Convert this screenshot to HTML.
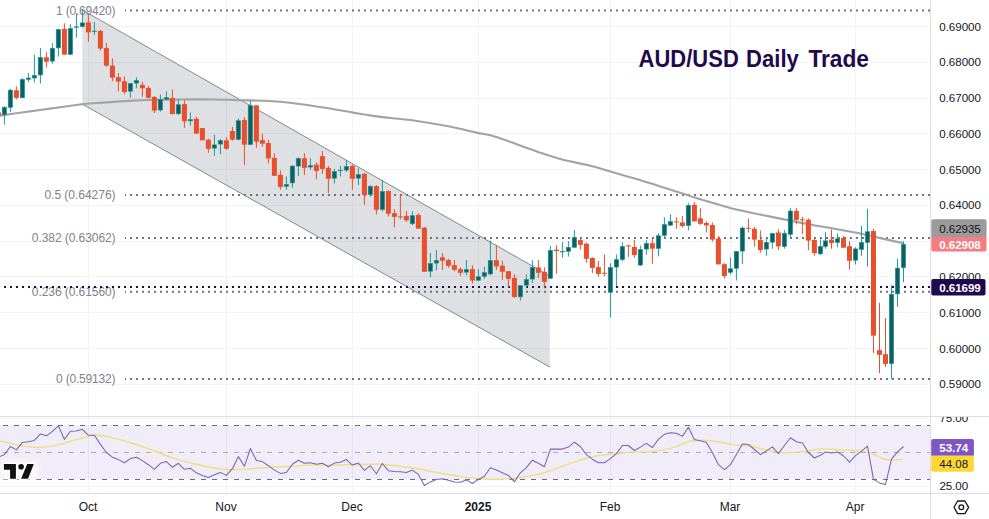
<!DOCTYPE html>
<html><head><meta charset="utf-8"><title>AUD/USD Daily Trade</title>
<style>
html,body{margin:0;padding:0;background:#fff;}
body{width:989px;height:519px;overflow:hidden;font-family:"Liberation Sans",sans-serif;}
svg{display:block;}
text{font-family:"Liberation Sans",sans-serif;}
</style></head><body>
<svg width="989" height="519" viewBox="0 0 989 519">
<rect x="0" y="0" width="989" height="519" fill="#ffffff"/>
<g stroke="#f2f3f5" stroke-width="1" shape-rendering="crispEdges">
<line x1="0" y1="26.4" x2="930" y2="26.4"/>
<line x1="0" y1="62.2" x2="930" y2="62.2"/>
<line x1="0" y1="98.0" x2="930" y2="98.0"/>
<line x1="0" y1="133.7" x2="930" y2="133.7"/>
<line x1="0" y1="169.5" x2="930" y2="169.5"/>
<line x1="0" y1="205.3" x2="930" y2="205.3"/>
<line x1="0" y1="241.1" x2="930" y2="241.1"/>
<line x1="0" y1="276.9" x2="930" y2="276.9"/>
<line x1="0" y1="312.6" x2="930" y2="312.6"/>
<line x1="0" y1="348.4" x2="930" y2="348.4"/>
<line x1="0" y1="384.2" x2="930" y2="384.2"/>
<line x1="88.4" y1="0" x2="88.4" y2="492.5"/>
<line x1="226.4" y1="0" x2="226.4" y2="492.5"/>
<line x1="352.4" y1="0" x2="352.4" y2="492.5"/>
<line x1="478.4" y1="0" x2="478.4" y2="492.5"/>
<line x1="610.4" y1="0" x2="610.4" y2="492.5"/>
<line x1="730.4" y1="0" x2="730.4" y2="492.5"/>
<line x1="855.5" y1="0" x2="855.5" y2="492.5"/>
<line x1="0" y1="486" x2="930" y2="486"/>
<line x1="0" y1="418.6" x2="930" y2="418.6"/>
</g>
<rect x="0" y="425.2" width="930.5" height="54" fill="#7e57c2" fill-opacity="0.11"/>
<polygon points="82.3,10.0 549.9,276.0 549.9,367.1 82.3,104.1" fill="#787b86" fill-opacity="0.235"/>
<g stroke="#83868f" stroke-width="1" fill="none"><line x1="82.3" y1="10.0" x2="549.9" y2="276.0"/><line x1="82.3" y1="104.1" x2="549.9" y2="367.1"/></g>
<g stroke="#70737d" stroke-width="2" stroke-dasharray="2 4" fill="none">
<line x1="125" y1="10.6" x2="931" y2="10.6" stroke-dashoffset="1"/>
<line x1="125" y1="194.9" x2="931" y2="194.9" stroke-dashoffset="1"/>
<line x1="125" y1="238.1" x2="931" y2="238.1" stroke-dashoffset="1"/>
<line x1="125" y1="291.8" x2="931" y2="291.8" stroke-dashoffset="1"/>
<line x1="125" y1="379.0" x2="931" y2="379.0" stroke-dashoffset="1"/>
</g>
<text x="115.6" y="14.9" font-size="12" fill="#80838d" text-anchor="end" textLength="59.6" lengthAdjust="spacing">1 (0.69420)</text>
<text x="115.6" y="199.2" font-size="12" fill="#80838d" text-anchor="end" textLength="71.2" lengthAdjust="spacing">0.5 (0.64276)</text>
<text x="115.6" y="242.4" font-size="12" fill="#80838d" text-anchor="end" textLength="83.8" lengthAdjust="spacing">0.382 (0.63062)</text>
<text x="115.6" y="296.1" font-size="12" fill="#80838d" text-anchor="end" textLength="83.8" lengthAdjust="spacing">0.236 (0.61560)</text>
<text x="115.6" y="383.3" font-size="12" fill="#80838d" text-anchor="end" textLength="59.6" lengthAdjust="spacing">0 (0.59132)</text>
<line x1="4" y1="287" x2="931" y2="287" stroke="#1f0a4d" stroke-width="2" stroke-dasharray="2 4"/>
<path d="M-2.0,115.9 C-1.7,115.9 -3.7,116.1 0.0,115.6 C3.7,115.1 13.3,113.7 20.0,112.8 C26.7,111.9 33.3,110.9 40.0,110.0 C46.7,109.1 53.3,108.1 60.0,107.2 C66.7,106.3 76.2,105.0 80.0,104.5 C83.8,104.0 82.0,104.2 83.0,104.1 C84.0,104.0 83.2,104.0 86.0,103.8 C88.8,103.6 94.3,103.2 100.0,102.8 C105.7,102.4 113.1,101.8 120.0,101.4 C126.9,101.0 134.9,100.6 141.6,100.3 C148.3,100.0 153.6,99.9 160.0,99.8 C166.4,99.7 173.3,99.6 180.0,99.5 C186.7,99.4 193.3,99.4 200.0,99.4 C206.7,99.4 213.2,99.6 220.0,99.7 C226.8,99.8 230.5,99.9 240.7,100.2 C250.9,100.5 267.5,100.6 281.0,101.8 C294.5,103.0 309.8,105.5 321.6,107.3 C333.4,109.1 343.9,111.1 352.0,112.4 C360.1,113.8 362.8,114.4 370.0,115.4 C377.2,116.4 387.3,117.6 395.1,118.5 C402.9,119.4 408.1,119.7 417.0,121.0 C425.9,122.3 438.5,124.4 448.4,126.3 C458.3,128.2 468.8,130.9 476.6,132.6 C484.4,134.3 488.6,134.7 495.4,136.7 C502.2,138.7 510.0,141.9 517.3,144.5 C524.6,147.1 532.0,149.9 539.3,152.4 C546.6,154.9 552.9,157.1 561.2,159.3 C569.6,161.5 581.0,163.4 589.4,165.5 C597.8,167.6 603.5,169.6 611.4,171.8 C619.2,174.1 628.7,176.7 636.5,179.0 C644.3,181.3 651.1,183.6 658.4,185.9 C665.6,188.2 674.7,191.1 680.0,192.8 C685.3,194.5 686.5,194.8 690.0,195.9 C693.5,197.0 697.6,198.5 701.3,199.6 C705.0,200.7 707.4,201.3 712.2,202.7 C717.0,204.1 724.4,206.4 730.0,207.9 C735.6,209.4 739.3,210.1 745.6,211.5 C751.9,212.9 760.5,214.6 767.9,216.1 C775.3,217.6 782.7,219.1 790.1,220.6 C797.5,222.1 805.0,223.6 812.4,225.0 C819.8,226.4 827.2,227.5 834.6,228.8 C842.0,230.1 849.4,231.3 856.8,232.8 C864.2,234.3 871.3,236.2 879.1,237.9 C886.9,239.7 899.5,242.4 903.6,243.3" fill="none" stroke="#a3a3a3" stroke-width="2.1" stroke-linejoin="round"/>
<g><rect x="-2.1" y="110.5" width="1" height="7.0" fill="#e8502d"/>
<rect x="3.9" y="106.1" width="1" height="18.6" fill="#1f9c98"/>
<rect x="9.9" y="88.9" width="1" height="23.3" fill="#1f9c98"/>
<rect x="15.9" y="86.3" width="1" height="13.1" fill="#e8502d"/>
<rect x="21.9" y="78.2" width="1" height="19.8" fill="#1f9c98"/>
<rect x="27.9" y="73.1" width="1" height="9.2" fill="#1f9c98"/>
<rect x="33.9" y="54.6" width="1" height="27.9" fill="#1f9c98"/>
<rect x="39.9" y="47.9" width="1" height="35.6" fill="#1f9c98"/>
<rect x="45.9" y="52.2" width="1" height="15.2" fill="#e8502d"/>
<rect x="51.9" y="43.1" width="1" height="20.6" fill="#1f9c98"/>
<rect x="57.9" y="29.3" width="1" height="27.3" fill="#1f9c98"/>
<rect x="63.9" y="23.3" width="1" height="31.3" fill="#e8502d"/>
<rect x="69.9" y="24.3" width="1" height="30.3" fill="#1f9c98"/>
<rect x="75.9" y="13.1" width="1" height="24.7" fill="#1f9c98"/>
<rect x="81.9" y="11.1" width="1" height="16.6" fill="#1f9c98"/>
<rect x="87.9" y="14.6" width="1" height="27.3" fill="#e8502d"/>
<rect x="93.9" y="21.8" width="1" height="13.0" fill="#1f9c98"/>
<rect x="99.9" y="29.9" width="1" height="20.7" fill="#e8502d"/>
<rect x="105.9" y="42.9" width="1" height="23.9" fill="#e8502d"/>
<rect x="111.9" y="58.3" width="1" height="22.9" fill="#e8502d"/>
<rect x="117.9" y="73.1" width="1" height="18.3" fill="#e8502d"/>
<rect x="123.9" y="76.2" width="1" height="18.2" fill="#e8502d"/>
<rect x="129.9" y="83.3" width="1" height="14.5" fill="#1f9c98"/>
<rect x="135.9" y="77.2" width="1" height="11.1" fill="#1f9c98"/>
<rect x="141.9" y="81.8" width="1" height="15.0" fill="#e8502d"/>
<rect x="147.9" y="85.9" width="1" height="12.5" fill="#e8502d"/>
<rect x="153.9" y="96.0" width="1" height="17.0" fill="#e8502d"/>
<rect x="159.9" y="94.4" width="1" height="17.2" fill="#1f9c98"/>
<rect x="165.9" y="91.4" width="1" height="8.5" fill="#1f9c98"/>
<rect x="171.9" y="89.3" width="1" height="25.3" fill="#e8502d"/>
<rect x="177.9" y="99.4" width="1" height="15.6" fill="#1f9c98"/>
<rect x="183.9" y="100.5" width="1" height="27.3" fill="#e8502d"/>
<rect x="189.9" y="112.4" width="1" height="13.1" fill="#1f9c98"/>
<rect x="195.9" y="116.8" width="1" height="16.8" fill="#e8502d"/>
<rect x="201.9" y="128.1" width="1" height="12.2" fill="#e8502d"/>
<rect x="207.9" y="138.7" width="1" height="14.1" fill="#e8502d"/>
<rect x="213.9" y="134.6" width="1" height="21.3" fill="#1f9c98"/>
<rect x="219.9" y="139.1" width="1" height="15.3" fill="#1f9c98"/>
<rect x="225.9" y="137.3" width="1" height="12.5" fill="#e8502d"/>
<rect x="231.9" y="126.9" width="1" height="13.8" fill="#e8502d"/>
<rect x="237.9" y="118.4" width="1" height="21.9" fill="#1f9c98"/>
<rect x="243.9" y="117.0" width="1" height="48.0" fill="#e8502d"/>
<rect x="249.9" y="101.2" width="1" height="44.1" fill="#1f9c98"/>
<rect x="255.9" y="105.3" width="1" height="42.5" fill="#e8502d"/>
<rect x="261.9" y="133.6" width="1" height="13.2" fill="#e8502d"/>
<rect x="267.9" y="139.7" width="1" height="23.7" fill="#e8502d"/>
<rect x="273.9" y="153.2" width="1" height="22.8" fill="#e8502d"/>
<rect x="279.9" y="170.3" width="1" height="19.3" fill="#e8502d"/>
<rect x="285.9" y="176.4" width="1" height="13.2" fill="#1f9c98"/>
<rect x="291.9" y="164.9" width="1" height="23.0" fill="#1f9c98"/>
<rect x="297.9" y="157.2" width="1" height="18.8" fill="#1f9c98"/>
<rect x="303.9" y="153.1" width="1" height="21.7" fill="#e8502d"/>
<rect x="309.9" y="158.2" width="1" height="11.5" fill="#1f9c98"/>
<rect x="315.9" y="162.3" width="1" height="17.1" fill="#e8502d"/>
<rect x="321.9" y="151.1" width="1" height="22.7" fill="#e8502d"/>
<rect x="327.9" y="165.9" width="1" height="27.1" fill="#e8502d"/>
<rect x="333.9" y="168.9" width="1" height="14.6" fill="#1f9c98"/>
<rect x="339.9" y="165.9" width="1" height="10.5" fill="#1f9c98"/>
<rect x="345.9" y="159.8" width="1" height="12.0" fill="#1f9c98"/>
<rect x="351.9" y="164.3" width="1" height="25.3" fill="#e8502d"/>
<rect x="357.9" y="168.3" width="1" height="16.6" fill="#1f9c98"/>
<rect x="363.9" y="172.8" width="1" height="31.9" fill="#e8502d"/>
<rect x="369.9" y="185.1" width="1" height="11.5" fill="#1f9c98"/>
<rect x="375.9" y="185.1" width="1" height="29.3" fill="#e8502d"/>
<rect x="381.9" y="179.9" width="1" height="31.5" fill="#1f9c98"/>
<rect x="387.9" y="190.2" width="1" height="26.3" fill="#e8502d"/>
<rect x="393.9" y="209.2" width="1" height="18.2" fill="#e8502d"/>
<rect x="399.9" y="194.2" width="1" height="25.1" fill="#e8502d"/>
<rect x="405.9" y="211.2" width="1" height="10.7" fill="#e8502d"/>
<rect x="411.9" y="211.2" width="1" height="13.8" fill="#1f9c98"/>
<rect x="417.9" y="213.2" width="1" height="15.4" fill="#e8502d"/>
<rect x="423.9" y="226.9" width="1" height="44.9" fill="#e8502d"/>
<rect x="429.9" y="253.0" width="1" height="24.3" fill="#1f9c98"/>
<rect x="435.9" y="250.0" width="1" height="20.4" fill="#1f9c98"/>
<rect x="441.9" y="253.0" width="1" height="16.8" fill="#e8502d"/>
<rect x="447.9" y="258.7" width="1" height="9.1" fill="#e8502d"/>
<rect x="453.9" y="260.1" width="1" height="11.1" fill="#e8502d"/>
<rect x="459.9" y="267.4" width="1" height="8.5" fill="#e8502d"/>
<rect x="465.9" y="260.1" width="1" height="15.4" fill="#1f9c98"/>
<rect x="471.9" y="265.1" width="1" height="18.5" fill="#e8502d"/>
<rect x="477.9" y="269.2" width="1" height="11.3" fill="#1f9c98"/>
<rect x="483.9" y="266.8" width="1" height="12.1" fill="#1f9c98"/>
<rect x="489.9" y="240.5" width="1" height="34.8" fill="#1f9c98"/>
<rect x="495.9" y="244.9" width="1" height="24.9" fill="#e8502d"/>
<rect x="501.9" y="260.7" width="1" height="19.2" fill="#e8502d"/>
<rect x="507.9" y="270.8" width="1" height="16.8" fill="#e8502d"/>
<rect x="513.9" y="274.2" width="1" height="23.5" fill="#e8502d"/>
<rect x="519.9" y="285.4" width="1" height="15.1" fill="#1f9c98"/>
<rect x="525.9" y="274.2" width="1" height="14.2" fill="#1f9c98"/>
<rect x="531.9" y="260.1" width="1" height="22.8" fill="#1f9c98"/>
<rect x="537.9" y="260.1" width="1" height="17.8" fill="#e8502d"/>
<rect x="543.9" y="267.4" width="1" height="21.0" fill="#e8502d"/>
<rect x="549.9" y="246.1" width="1" height="32.8" fill="#1f9c98"/>
<rect x="555.9" y="244.9" width="1" height="28.9" fill="#e8502d"/>
<rect x="561.9" y="242.1" width="1" height="15.6" fill="#1f9c98"/>
<rect x="567.9" y="241.1" width="1" height="15.5" fill="#1f9c98"/>
<rect x="573.9" y="229.9" width="1" height="18.0" fill="#1f9c98"/>
<rect x="579.9" y="237.0" width="1" height="12.6" fill="#e8502d"/>
<rect x="585.9" y="242.5" width="1" height="20.3" fill="#e8502d"/>
<rect x="591.9" y="257.4" width="1" height="15.5" fill="#e8502d"/>
<rect x="597.9" y="260.8" width="1" height="15.8" fill="#e8502d"/>
<rect x="603.9" y="254.3" width="1" height="22.3" fill="#e8502d"/>
<rect x="609.9" y="263.2" width="1" height="54.3" fill="#1f9c98"/>
<rect x="615.9" y="254.3" width="1" height="31.8" fill="#1f9c98"/>
<rect x="621.9" y="242.2" width="1" height="19.0" fill="#1f9c98"/>
<rect x="627.9" y="244.6" width="1" height="12.2" fill="#e8502d"/>
<rect x="633.9" y="240.0" width="1" height="17.8" fill="#e8502d"/>
<rect x="639.9" y="245.6" width="1" height="20.3" fill="#1f9c98"/>
<rect x="645.9" y="240.2" width="1" height="14.5" fill="#1f9c98"/>
<rect x="651.9" y="237.5" width="1" height="26.3" fill="#e8502d"/>
<rect x="657.9" y="233.1" width="1" height="23.3" fill="#1f9c98"/>
<rect x="663.9" y="217.3" width="1" height="21.3" fill="#1f9c98"/>
<rect x="669.9" y="214.3" width="1" height="11.7" fill="#1f9c98"/>
<rect x="675.9" y="217.3" width="1" height="11.5" fill="#e8502d"/>
<rect x="681.9" y="215.9" width="1" height="11.9" fill="#e8502d"/>
<rect x="687.9" y="203.2" width="1" height="27.3" fill="#1f9c98"/>
<rect x="693.9" y="202.1" width="1" height="19.3" fill="#e8502d"/>
<rect x="699.9" y="208.2" width="1" height="16.6" fill="#e8502d"/>
<rect x="705.9" y="221.4" width="1" height="11.1" fill="#e8502d"/>
<rect x="711.9" y="222.4" width="1" height="19.2" fill="#e8502d"/>
<rect x="717.9" y="236.1" width="1" height="28.3" fill="#e8502d"/>
<rect x="723.9" y="263.2" width="1" height="15.4" fill="#e8502d"/>
<rect x="729.9" y="257.4" width="1" height="17.2" fill="#1f9c98"/>
<rect x="735.9" y="251.3" width="1" height="29.3" fill="#1f9c98"/>
<rect x="741.9" y="226.4" width="1" height="37.4" fill="#1f9c98"/>
<rect x="747.9" y="218.3" width="1" height="14.2" fill="#e8502d"/>
<rect x="753.9" y="227.0" width="1" height="19.6" fill="#e8502d"/>
<rect x="759.9" y="230.5" width="1" height="22.2" fill="#e8502d"/>
<rect x="765.9" y="237.1" width="1" height="18.6" fill="#1f9c98"/>
<rect x="771.9" y="233.1" width="1" height="15.6" fill="#1f9c98"/>
<rect x="777.9" y="229.4" width="1" height="20.6" fill="#e8502d"/>
<rect x="783.9" y="230.1" width="1" height="18.6" fill="#1f9c98"/>
<rect x="789.9" y="208.2" width="1" height="29.3" fill="#1f9c98"/>
<rect x="795.9" y="208.2" width="1" height="16.2" fill="#e8502d"/>
<rect x="801.9" y="216.9" width="1" height="17.2" fill="#e8502d"/>
<rect x="807.9" y="218.3" width="1" height="32.0" fill="#e8502d"/>
<rect x="813.9" y="237.9" width="1" height="17.8" fill="#e8502d"/>
<rect x="819.9" y="239.2" width="1" height="15.5" fill="#1f9c98"/>
<rect x="825.0" y="232.1" width="1" height="16.6" fill="#1f9c98"/>
<rect x="831.0" y="229.4" width="1" height="19.3" fill="#e8502d"/>
<rect x="837.0" y="233.5" width="1" height="13.8" fill="#1f9c98"/>
<rect x="843.0" y="236.1" width="1" height="11.6" fill="#e8502d"/>
<rect x="849.0" y="241.2" width="1" height="28.3" fill="#e8502d"/>
<rect x="855.0" y="247.3" width="1" height="17.1" fill="#1f9c98"/>
<rect x="861.0" y="226.0" width="1" height="29.7" fill="#1f9c98"/>
<rect x="867.0" y="208.8" width="1" height="57.7" fill="#1f9c98"/>
<rect x="873.0" y="229.0" width="1" height="123.8" fill="#e8502d"/>
<rect x="879.0" y="302.8" width="1" height="70.2" fill="#e8502d"/>
<rect x="885.0" y="318.0" width="1" height="48.9" fill="#e8502d"/>
<rect x="891.0" y="285.1" width="1" height="94.0" fill="#1f9c98"/>
<rect x="897.0" y="258.8" width="1" height="48.0" fill="#1f9c98"/>
<rect x="903.0" y="241.2" width="1" height="40.8" fill="#1f9c98"/></g>
<g fill="#0d5f63" stroke="#1f9c98" stroke-width="0.6"><rect x="2.20" y="107.3" width="4.4" height="7.5"/>
<rect x="8.20" y="90.1" width="4.4" height="17.2"/>
<rect x="20.20" y="79.4" width="4.4" height="18.4"/>
<rect x="26.20" y="78.0" width="4.4" height="1.4"/>
<rect x="32.20" y="75.4" width="4.4" height="2.6"/>
<rect x="38.20" y="57.5" width="4.4" height="17.5"/>
<rect x="50.20" y="48.3" width="4.4" height="12.8"/>
<rect x="56.20" y="29.5" width="4.4" height="18.4"/>
<rect x="68.20" y="28.5" width="4.4" height="25.9"/>
<rect x="74.20" y="26.8" width="4.4" height="0.6"/>
<rect x="80.20" y="22.9" width="4.4" height="3.6"/>
<rect x="92.20" y="31.0" width="4.4" height="0.6"/>
<rect x="128.20" y="83.5" width="4.4" height="7.7"/>
<rect x="134.20" y="80.4" width="4.4" height="2.7"/>
<rect x="158.20" y="99.6" width="4.4" height="10.4"/>
<rect x="164.20" y="97.6" width="4.4" height="1.6"/>
<rect x="176.20" y="104.7" width="4.4" height="9.1"/>
<rect x="188.20" y="119.6" width="4.4" height="1.3"/>
<rect x="212.20" y="144.9" width="4.4" height="3.3"/>
<rect x="218.20" y="140.5" width="4.4" height="3.6"/>
<rect x="236.20" y="120.7" width="4.4" height="18.8"/>
<rect x="248.20" y="105.5" width="4.4" height="39.0"/>
<rect x="284.20" y="184.3" width="4.4" height="2.0"/>
<rect x="290.20" y="166.1" width="4.4" height="16.8"/>
<rect x="296.20" y="158.4" width="4.4" height="7.7"/>
<rect x="308.20" y="165.5" width="4.4" height="1.6"/>
<rect x="332.20" y="171.6" width="4.4" height="6.6"/>
<rect x="338.20" y="170.1" width="4.4" height="0.7"/>
<rect x="344.20" y="166.5" width="4.4" height="3.6"/>
<rect x="356.20" y="174.6" width="4.4" height="3.6"/>
<rect x="368.20" y="186.3" width="4.4" height="8.1"/>
<rect x="380.20" y="191.4" width="4.4" height="18.2"/>
<rect x="410.20" y="215.7" width="4.4" height="8.1"/>
<rect x="428.20" y="263.5" width="4.4" height="7.7"/>
<rect x="434.20" y="260.3" width="4.4" height="2.8"/>
<rect x="464.20" y="269.6" width="4.4" height="2.6"/>
<rect x="476.20" y="276.7" width="4.4" height="3.6"/>
<rect x="482.20" y="272.6" width="4.4" height="3.7"/>
<rect x="488.20" y="260.3" width="4.4" height="13.7"/>
<rect x="518.20" y="285.6" width="4.4" height="11.3"/>
<rect x="524.20" y="279.5" width="4.4" height="5.7"/>
<rect x="530.20" y="267.4" width="4.4" height="11.7"/>
<rect x="548.20" y="250.4" width="4.4" height="27.9"/>
<rect x="560.20" y="251.4" width="4.4" height="0.6"/>
<rect x="566.20" y="247.3" width="4.4" height="4.1"/>
<rect x="572.20" y="237.6" width="4.4" height="9.7"/>
<rect x="608.20" y="267.5" width="4.4" height="24.8"/>
<rect x="614.20" y="259.6" width="4.4" height="7.5"/>
<rect x="620.20" y="246.4" width="4.4" height="13.2"/>
<rect x="638.20" y="249.5" width="4.4" height="15.6"/>
<rect x="644.20" y="243.4" width="4.4" height="5.7"/>
<rect x="656.20" y="235.7" width="4.4" height="12.8"/>
<rect x="662.20" y="224.6" width="4.4" height="10.7"/>
<rect x="668.20" y="221.6" width="4.4" height="3.6"/>
<rect x="686.20" y="205.4" width="4.4" height="20.2"/>
<rect x="728.20" y="268.7" width="4.4" height="3.6"/>
<rect x="734.20" y="251.5" width="4.4" height="16.8"/>
<rect x="740.20" y="228.0" width="4.4" height="23.1"/>
<rect x="764.20" y="242.4" width="4.4" height="6.7"/>
<rect x="770.20" y="233.3" width="4.4" height="8.9"/>
<rect x="782.20" y="233.3" width="4.4" height="13.1"/>
<rect x="788.20" y="211.0" width="4.4" height="23.3"/>
<rect x="818.20" y="246.4" width="4.4" height="7.5"/>
<rect x="823.30" y="240.8" width="4.4" height="5.6"/>
<rect x="835.30" y="238.8" width="4.4" height="3.6"/>
<rect x="853.30" y="248.9" width="4.4" height="11.3"/>
<rect x="859.30" y="242.4" width="4.4" height="7.1"/>
<rect x="865.30" y="231.7" width="4.4" height="10.7"/>
<rect x="889.30" y="294.3" width="4.4" height="69.4"/>
<rect x="895.30" y="268.1" width="4.4" height="25.8"/>
<rect x="901.30" y="244.4" width="4.4" height="23.3"/></g>
<g fill="#e8502d"><rect x="-4.1" y="112.2" width="5" height="3.4"/>
<rect x="13.9" y="90.3" width="5" height="7.5"/>
<rect x="43.9" y="57.3" width="5" height="4.4"/>
<rect x="61.9" y="28.9" width="5" height="25.7"/>
<rect x="85.9" y="22.3" width="5" height="10.1"/>
<rect x="97.9" y="30.8" width="5" height="17.8"/>
<rect x="103.9" y="48.1" width="5" height="17.6"/>
<rect x="109.9" y="65.7" width="5" height="11.9"/>
<rect x="115.9" y="77.2" width="5" height="4.4"/>
<rect x="121.9" y="81.2" width="5" height="10.8"/>
<rect x="139.9" y="84.9" width="5" height="3.4"/>
<rect x="145.9" y="87.9" width="5" height="9.9"/>
<rect x="151.9" y="97.0" width="5" height="13.6"/>
<rect x="169.9" y="98.0" width="5" height="16.0"/>
<rect x="181.9" y="104.1" width="5" height="17.2"/>
<rect x="193.9" y="118.8" width="5" height="14.8"/>
<rect x="199.9" y="128.1" width="5" height="12.2"/>
<rect x="205.9" y="139.7" width="5" height="9.1"/>
<rect x="223.9" y="140.3" width="5" height="8.5"/>
<rect x="229.9" y="131.0" width="5" height="8.7"/>
<rect x="241.9" y="120.1" width="5" height="24.6"/>
<rect x="253.9" y="105.3" width="5" height="36.4"/>
<rect x="259.9" y="140.1" width="5" height="3.6"/>
<rect x="265.9" y="143.1" width="5" height="15.4"/>
<rect x="271.9" y="157.9" width="5" height="17.9"/>
<rect x="277.9" y="174.8" width="5" height="12.1"/>
<rect x="301.9" y="158.2" width="5" height="9.7"/>
<rect x="313.9" y="164.7" width="5" height="6.3"/>
<rect x="319.9" y="156.2" width="5" height="12.7"/>
<rect x="325.9" y="167.9" width="5" height="10.9"/>
<rect x="349.9" y="165.9" width="5" height="12.9"/>
<rect x="361.9" y="173.8" width="5" height="21.2"/>
<rect x="373.9" y="186.1" width="5" height="23.7"/>
<rect x="385.9" y="191.0" width="5" height="22.8"/>
<rect x="391.9" y="213.2" width="5" height="3.7"/>
<rect x="397.9" y="216.4" width="5" height="1.0"/>
<rect x="403.9" y="215.9" width="5" height="4.4"/>
<rect x="415.9" y="214.9" width="5" height="13.7"/>
<rect x="421.9" y="227.7" width="5" height="44.1"/>
<rect x="439.9" y="257.3" width="5" height="3.4"/>
<rect x="445.9" y="260.1" width="5" height="5.7"/>
<rect x="451.9" y="265.1" width="5" height="4.7"/>
<rect x="457.9" y="269.2" width="5" height="3.6"/>
<rect x="469.9" y="269.2" width="5" height="11.3"/>
<rect x="493.9" y="260.1" width="5" height="6.3"/>
<rect x="499.9" y="265.7" width="5" height="6.1"/>
<rect x="505.9" y="271.2" width="5" height="7.7"/>
<rect x="511.9" y="277.9" width="5" height="19.2"/>
<rect x="535.9" y="267.4" width="5" height="5.4"/>
<rect x="541.9" y="271.8" width="5" height="10.1"/>
<rect x="553.9" y="249.6" width="5" height="1.4"/>
<rect x="577.9" y="240.1" width="5" height="4.8"/>
<rect x="583.9" y="243.7" width="5" height="15.1"/>
<rect x="589.9" y="258.0" width="5" height="9.9"/>
<rect x="595.9" y="267.1" width="5" height="6.8"/>
<rect x="601.9" y="272.8" width="5" height="1.0"/>
<rect x="625.9" y="245.4" width="5" height="1.0"/>
<rect x="631.9" y="247.0" width="5" height="8.1"/>
<rect x="649.9" y="243.2" width="5" height="5.5"/>
<rect x="673.9" y="221.4" width="5" height="1.0"/>
<rect x="679.9" y="222.4" width="5" height="3.6"/>
<rect x="691.9" y="204.8" width="5" height="16.6"/>
<rect x="697.9" y="218.3" width="5" height="5.5"/>
<rect x="703.9" y="223.0" width="5" height="2.4"/>
<rect x="709.9" y="225.0" width="5" height="14.6"/>
<rect x="715.9" y="238.6" width="5" height="25.8"/>
<rect x="721.9" y="264.2" width="5" height="11.8"/>
<rect x="745.9" y="227.8" width="5" height="1.0"/>
<rect x="751.9" y="228.8" width="5" height="10.8"/>
<rect x="757.9" y="240.0" width="5" height="10.1"/>
<rect x="775.9" y="232.5" width="5" height="13.9"/>
<rect x="793.9" y="210.8" width="5" height="9.1"/>
<rect x="799.9" y="219.3" width="5" height="1.0"/>
<rect x="805.9" y="219.7" width="5" height="20.9"/>
<rect x="811.9" y="240.0" width="5" height="13.1"/>
<rect x="829.0" y="239.6" width="5" height="3.4"/>
<rect x="841.0" y="237.9" width="5" height="9.8"/>
<rect x="847.0" y="246.2" width="5" height="14.6"/>
<rect x="871.0" y="231.1" width="5" height="104.5"/>
<rect x="877.0" y="350.1" width="5" height="4.7"/>
<rect x="883.0" y="354.2" width="5" height="9.7"/></g>
<g stroke="#696c79" stroke-width="1" stroke-dasharray="5 6" fill="none" shape-rendering="crispEdges">
<line x1="3" y1="425.5" x2="930" y2="425.5" stroke-opacity="1"/>
<line x1="3" y1="452.5" x2="930" y2="452.5" stroke-opacity="0.5"/>
<line x1="3" y1="479.5" x2="930" y2="479.5" stroke-opacity="1"/>
</g>
<path d="M0.0,441.0 C3.4,441.8 13.5,444.4 20.2,445.5 C27.0,446.5 33.7,447.7 40.4,447.5 C47.2,447.2 53.9,445.6 60.7,444.0 C67.4,442.5 75.2,439.8 80.9,438.4 C86.6,436.9 90.0,435.5 95.0,435.3 C100.1,435.2 105.2,436.1 111.2,437.4 C117.3,438.7 124.7,440.9 131.4,443.0 C138.2,445.1 144.9,447.5 151.7,449.9 C158.4,452.3 165.1,455.4 171.9,457.6 C178.6,459.8 185.7,461.6 192.1,463.3 C198.5,464.9 203.8,466.2 210.2,467.3 C216.6,468.4 223.7,469.5 230.4,469.7 C237.2,470.0 243.9,469.1 250.7,468.7 C257.4,468.3 264.1,467.7 270.9,467.3 C277.6,466.9 284.4,466.7 291.1,466.3 C297.9,465.9 304.6,465.3 311.3,465.1 C318.1,464.9 324.8,465.2 331.6,465.1 C338.3,465.0 345.0,464.8 351.8,464.7 C358.5,464.5 367.3,464.3 372.0,464.3 C376.7,464.2 375.3,463.9 380.0,464.3 C384.7,464.6 393.5,465.5 400.2,466.3 C407.0,467.1 413.7,468.2 420.4,469.3 C427.2,470.5 433.9,472.0 440.7,473.2 C447.4,474.4 454.1,475.5 460.9,476.4 C467.6,477.4 474.4,478.4 481.1,478.8 C487.9,479.3 494.6,479.5 501.3,479.2 C508.1,479.0 514.8,478.2 521.6,477.2 C528.3,476.2 535.0,475.2 541.8,473.4 C548.5,471.6 557.3,467.9 562.0,466.3 C566.7,464.7 565.3,465.2 570.0,463.7 C574.7,462.2 583.5,458.8 590.2,457.2 C597.0,455.6 603.7,455.0 610.4,454.2 C617.2,453.3 623.9,452.6 630.7,452.1 C637.4,451.7 644.1,452.2 650.9,451.5 C657.6,450.9 664.4,449.8 671.1,448.1 C677.9,446.3 684.6,442.2 691.3,441.0 C698.1,439.8 704.8,440.2 711.6,440.8 C718.3,441.4 725.0,443.5 731.8,444.4 C738.5,445.4 747.3,445.8 752.0,446.5 C756.7,447.1 755.3,447.5 760.0,448.5 C764.7,449.5 773.5,452.0 780.2,452.5 C787.0,453.1 793.7,452.5 800.4,451.9 C807.2,451.3 813.9,449.2 820.7,448.9 C827.4,448.6 834.1,449.5 840.9,449.9 C847.6,450.3 856.1,450.6 861.1,451.1 C866.2,451.7 867.9,452.0 871.2,453.1 C874.6,454.3 878.3,456.8 881.3,458.0 C884.4,459.2 886.7,460.0 889.4,460.2 C892.1,460.5 895.2,459.8 897.5,459.6 C899.8,459.5 902.2,459.3 903.2,459.2" fill="none" stroke="#efdd80" stroke-width="1.4" stroke-linejoin="round"/>
<path d="M-1.6,457.2 L4.4,454.6 L10.4,446.5 L16.4,449.9 L22.4,442.4 L28.4,441.8 L34.4,440.4 L40.4,433.9 L46.4,435.8 L52.4,431.3 L58.4,425.8 L64.4,439.4 L70.4,431.3 L76.4,430.9 L82.4,429.3 L88.4,435.3 L94.4,435.3 L100.4,444.4 L106.4,452.5 L112.4,457.2 L118.4,459.6 L124.4,462.7 L130.4,458.6 L136.4,457.2 L142.4,460.6 L148.4,464.7 L154.4,469.3 L160.4,463.3 L166.4,461.6 L172.4,467.3 L178.4,463.3 L184.4,469.3 L190.4,468.3 L196.4,472.8 L202.4,475.4 L208.4,477.4 L214.4,474.8 L220.4,472.4 L226.4,475.4 L232.4,468.7 L238.4,456.6 L244.4,466.3 L250.4,448.5 L256.4,460.6 L262.4,461.6 L268.4,465.7 L274.4,470.1 L280.4,473.4 L286.4,472.4 L292.4,464.3 L298.4,460.2 L304.4,463.3 L310.4,462.7 L316.4,464.3 L322.4,463.3 L328.4,466.7 L334.4,463.1 L340.4,462.3 L346.4,459.6 L352.4,465.1 L358.4,463.1 L364.4,470.3 L370.4,465.7 L376.4,473.8 L382.4,463.5 L388.4,470.7 L394.4,471.4 L400.4,471.8 L406.4,472.4 L412.4,470.1 L418.4,474.4 L424.4,485.5 L430.4,481.9 L436.4,479.4 L442.4,478.8 L448.4,480.3 L454.4,481.9 L460.4,482.3 L466.4,479.9 L472.4,483.5 L478.4,479.4 L484.4,476.2 L490.4,467.7 L496.4,470.1 L502.4,472.8 L508.4,475.4 L514.4,481.9 L520.4,472.8 L526.4,467.7 L532.4,460.2 L538.4,463.3 L544.4,466.7 L550.4,449.1 L556.4,449.1 L562.4,449.1 L568.4,447.1 L574.4,442.2 L580.4,446.5 L586.4,454.6 L592.4,459.2 L598.4,462.7 L604.4,462.7 L610.4,458.6 L616.4,453.6 L622.4,445.5 L628.4,445.5 L634.4,450.5 L640.4,447.1 L646.4,443.4 L652.4,447.5 L658.4,439.4 L664.4,434.3 L670.4,432.7 L676.4,433.3 L682.4,436.4 L688.4,427.3 L694.4,439.4 L700.4,440.8 L706.4,442.4 L712.4,452.5 L718.4,464.7 L724.4,469.7 L730.4,464.7 L736.4,454.6 L742.4,444.0 L748.4,444.4 L754.4,449.5 L760.4,454.6 L766.4,450.9 L772.4,446.9 L778.4,453.6 L784.4,445.5 L790.4,437.8 L796.4,441.8 L802.4,443.0 L808.4,452.5 L814.4,458.0 L820.4,455.2 L825.5,452.1 L831.5,452.9 L837.5,451.9 L843.5,456.0 L849.5,462.1 L855.5,455.6 L861.5,451.1 L867.5,446.1 L873.5,479.4 L879.5,482.9 L885.5,484.5 L891.5,459.2 L897.5,451.9 L903.5,446.5" fill="none" stroke="#7664b7" stroke-width="1.05" stroke-linejoin="round"/>
<filter id="bl" x="-20%" y="-40%" width="140%" height="180%"><feGaussianBlur stdDeviation="2.5"/></filter>
<rect x="0" y="461" width="38" height="20" fill="#ffffff" fill-opacity="0.6" filter="url(#bl)"/>
<g fill="#111111" stroke="#ffffff" stroke-width="2.4" stroke-opacity="0.85" paint-order="stroke" stroke-linejoin="round"><path d="M3.9,464 H15.9 V478.7 H10.1 V469.7 H3.9 Z"/><circle cx="21.1" cy="466.8" r="2.8"/><path d="M27.2,464 H33.8 L28,478.7 H21.1 Z"/></g>
<g stroke="#dcdee3" stroke-width="1" shape-rendering="crispEdges">
<line x1="0" y1="416.4" x2="989" y2="416.4"/>
<line x1="0" y1="493.5" x2="989" y2="493.5"/>
<line x1="930.5" y1="0" x2="930.5" y2="519"/>
</g>
<text x="939.2" y="30.5" font-size="11.6" fill="#131722" textLength="41.8" lengthAdjust="spacing">0.69000</text>
<text x="939.2" y="66.3" font-size="11.6" fill="#131722" textLength="41.8" lengthAdjust="spacing">0.68000</text>
<text x="939.2" y="102.1" font-size="11.6" fill="#131722" textLength="41.8" lengthAdjust="spacing">0.67000</text>
<text x="939.2" y="137.8" font-size="11.6" fill="#131722" textLength="41.8" lengthAdjust="spacing">0.66000</text>
<text x="939.2" y="173.6" font-size="11.6" fill="#131722" textLength="41.8" lengthAdjust="spacing">0.65000</text>
<text x="939.2" y="209.4" font-size="11.6" fill="#131722" textLength="41.8" lengthAdjust="spacing">0.64000</text>
<text x="939.2" y="245.2" font-size="11.6" fill="#131722" textLength="41.8" lengthAdjust="spacing">0.63000</text>
<text x="939.2" y="281.0" font-size="11.6" fill="#131722" textLength="41.8" lengthAdjust="spacing">0.62000</text>
<text x="939.2" y="316.7" font-size="11.6" fill="#131722" textLength="41.8" lengthAdjust="spacing">0.61000</text>
<text x="939.2" y="352.5" font-size="11.6" fill="#131722" textLength="41.8" lengthAdjust="spacing">0.60000</text>
<text x="939.2" y="388.3" font-size="11.6" fill="#131722" textLength="41.8" lengthAdjust="spacing">0.59000</text>
<path d="M931.3,237.1 V221.3 a2,2 0 0 1 2,-2 H984.5 a2,2 0 0 1 2,2 V237.1 Z" fill="#9b9b9b"/>
<text x="939.3" y="232.6" font-size="11.6" fill="#131722" textLength="41.4" lengthAdjust="spacing">0.62935</text>
<path d="M931.3,237.1 H986.5 V249.5 a2,2 0 0 1 -2,2 H933.3 a2,2 0 0 1 -2,-2 Z" fill="#f77c80"/>
<text x="939.3" y="248.6" font-size="11.6" font-weight="bold" fill="#ffffff" textLength="41.4" lengthAdjust="spacing">0.62908</text>
<rect x="931.3" y="279.1" width="54.2" height="16.4" rx="2" fill="#1f0a4d"/>
<text x="939.3" y="291.5" font-size="11.6" font-weight="bold" fill="#ffffff" textLength="41.4" lengthAdjust="spacing">0.61699</text>
<clipPath id="cp"><rect x="931" y="417" width="58" height="76"/></clipPath>
<g clip-path="url(#cp)"><text x="939.5" y="422" font-size="11.6" fill="#131722" textLength="28.6" lengthAdjust="spacing">75.00</text></g>
<text x="939.5" y="489.9" font-size="11.6" fill="#131722" textLength="28.6" lengthAdjust="spacing">25.00</text>
<path d="M931.2,455.7 V441 a2,2 0 0 1 2,-2 H971.9 a2,2 0 0 1 2,2 V455.7 Z" fill="#7e57c2"/>
<text x="939.3" y="451.6" font-size="11.6" font-weight="bold" fill="#ffffff" textLength="28.8" lengthAdjust="spacing">53.74</text>
<path d="M931.2,455.7 H973.9 V469.7 a2,2 0 0 1 -2,2 H933.2 a2,2 0 0 1 -2,-2 Z" fill="#fdd835"/>
<text x="939.3" y="467.9" font-size="11.6" fill="#131722" textLength="28.8" lengthAdjust="spacing">44.08</text>
<text x="88.0" y="511.3" font-size="12" fill="#131722" text-anchor="middle">Oct</text>
<text x="226.0" y="511.3" font-size="12" fill="#131722" text-anchor="middle">Nov</text>
<text x="352.0" y="511.3" font-size="12" fill="#131722" text-anchor="middle">Dec</text>
<text x="478.0" y="511.3" font-size="12" fill="#131722" text-anchor="middle" font-weight="bold">2025</text>
<text x="610.0" y="511.3" font-size="12" fill="#131722" text-anchor="middle">Feb</text>
<text x="730.0" y="511.3" font-size="12" fill="#131722" text-anchor="middle">Mar</text>
<text x="855.1" y="511.3" font-size="12" fill="#131722" text-anchor="middle">Apr</text>
<polygon points="968.6,507.3 964.9,513.6 957.6,513.6 954.0,507.3 957.6,501.0 964.9,501.0" fill="none" stroke="#131722" stroke-width="1.3" stroke-linejoin="round"/>
<circle cx="961.3" cy="507.3" r="2.4" fill="none" stroke="#131722" stroke-width="1.3"/>
<text x="638.6" y="66.5" font-size="23.6" font-weight="bold" fill="#1f0a4d" textLength="100.2" lengthAdjust="spacingAndGlyphs">AUD/USD</text>
<text x="746.1" y="66.5" font-size="23.6" font-weight="bold" fill="#1f0a4d" textLength="52.7" lengthAdjust="spacingAndGlyphs">Daily</text>
<text x="808.4" y="66.5" font-size="23.6" font-weight="bold" fill="#1f0a4d" textLength="60.6" lengthAdjust="spacingAndGlyphs">Trade</text>
</svg>
</body></html>
